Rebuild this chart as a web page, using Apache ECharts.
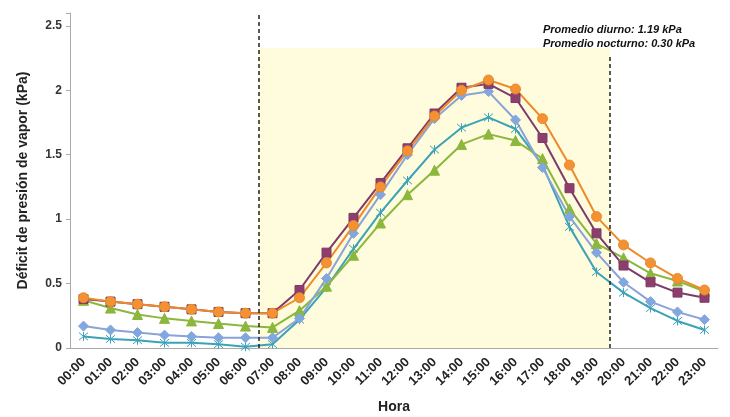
<!DOCTYPE html>
<html>
<head>
<meta charset="utf-8">
<script src="https://cdn.jsdelivr.net/npm/echarts@6/dist/echarts.min.js"></script>
<style>
  html, body { margin: 0; padding: 0; background: #fff; }
  #chart { width: 730px; height: 417px; }
</style>
</head>
<body>
<div id="chart"></div>
<script>
// horas del día
const hours = ['00:00', '01:00', '02:00', '03:00', '04:00', '05:00', '06:00', '07:00',
  '08:00', '09:00', '10:00', '11:00', '12:00', '13:00', '14:00', '15:00',
  '16:00', '17:00', '18:00', '19:00', '20:00', '21:00', '22:00', '23:00'];

// DPV (kPa) por serie
const serieCirculo = [0.39, 0.36, 0.34, 0.32, 0.30, 0.28, 0.27, 0.27, 0.39, 0.66, 0.95, 1.25,
  1.53, 1.80, 2.00, 2.08, 2.01, 1.78, 1.42, 1.02, 0.80, 0.66, 0.54, 0.45];
const serieCuadro = [0.38, 0.36, 0.34, 0.32, 0.30, 0.28, 0.27, 0.27, 0.45, 0.74, 1.01, 1.28,
  1.55, 1.82, 2.02, 2.05, 1.94, 1.63, 1.24, 0.89, 0.64, 0.51, 0.43, 0.39];
const serieTriangulo = [0.37, 0.31, 0.26, 0.23, 0.21, 0.19, 0.17, 0.16, 0.29, 0.48, 0.72, 0.97,
  1.19, 1.38, 1.58, 1.66, 1.61, 1.47, 1.08, 0.81, 0.70, 0.58, 0.52, 0.44];
const serieRombo = [0.17, 0.14, 0.12, 0.10, 0.09, 0.08, 0.08, 0.08, 0.23, 0.54, 0.89, 1.19,
  1.50, 1.78, 1.96, 1.99, 1.77, 1.40, 1.02, 0.74, 0.51, 0.36, 0.28, 0.22];
const serieAspa = [0.09, 0.07, 0.06, 0.04, 0.04, 0.03, 0.01, 0.03, 0.22, 0.47, 0.77, 1.05,
  1.30, 1.54, 1.71, 1.79, 1.70, 1.42, 0.94, 0.59, 0.43, 0.31, 0.21, 0.14];

// periodo diurno (en horas, sobre un eje 0-24) y alturas de las líneas
const periodoDia = [7, 20];
const altoFranja = 2.33;
const altoLineas = [2.6, 2.26];

const yTicks = [0, 0.5, 1, 1.5, 2, 2.5];

const chart = echarts.init(document.getElementById('chart'));

const aspa = 'path://M0,0L10,10M10,0L0,10M5,-1L5,11';

function linea(name, data, color, symbol, size, fill) {
  return {
    name: name,
    type: 'line',
    data: data,
    symbol: symbol,
    symbolSize: size,
    showSymbol: true,
    lineStyle: { color: color, width: 2 },
    itemStyle: { color: fill || color, borderColor: color, borderWidth: 1 },
    z: 3
  };
}

const option = {
  animation: false,
  backgroundColor: '#fff',
  textStyle: { fontFamily: 'Liberation Sans, Arial, sans-serif' },
  grid: { left: 70, right: 12, top: 13, bottom: 69, outerBoundsMode: 'none' },
  xAxis: [
    {
      type: 'category',
      data: hours,
      boundaryGap: true,
      name: 'Hora',
      nameLocation: 'middle',
      nameGap: 52,
      nameTextStyle: { fontSize: 14, fontWeight: 'bold', color: '#222' },
      axisLine: { lineStyle: { color: '#aaa' } },
      axisTick: { alignWithLabel: false, length: 4, lineStyle: { color: '#aaa' } },
      axisLabel: { rotate: 45, fontSize: 13, fontWeight: 'bold', color: '#222', interval: 0, margin: 12 }
    },
    {
      // eje auxiliar para la franja del día
      type: 'value', min: 0, max: 24, show: false
    }
  ],
  yAxis: {
    type: 'value',
    min: 0,
    max: 2.6,
    interval: 0.5,
    name: 'Déficit de presión de vapor (kPa)',
    nameLocation: 'middle',
    nameGap: 40,
    nameTextStyle: { fontSize: 14, fontWeight: 'bold', color: '#222' },
    axisLine: { show: true, lineStyle: { color: '#aaa' } },
    axisTick: { show: true, length: 4, lineStyle: { color: '#aaa' } },
    splitLine: { show: false },
    axisLabel: {
      fontSize: 12, fontWeight: 'bold', color: '#333', margin: 8,
      formatter: v => yTicks.some(t => Math.abs(t - v) < 1e-6) ? String(v) : ''
    }
  },
  series: [
    {
      name: 'dia',
      type: 'line',
      xAxisIndex: 1,
      data: [],
      z: 1,
      silent: true,
      markArea: {
        silent: true,
        itemStyle: { color: '#FEFCDC' },
        data: [[{ coord: [periodoDia[0], 0] }, { coord: [periodoDia[1], altoFranja] }]]
      },
      markLine: {
        silent: true,
        symbol: 'none',
        label: { show: false },
        lineStyle: { color: '#222', type: [4, 3], width: 1.5 },
        data: [
          [{ coord: [periodoDia[0], 0] }, { coord: [periodoDia[0], altoLineas[0]] }],
          [{ coord: [periodoDia[1], 0] }, { coord: [periodoDia[1], altoLineas[1]] }]
        ]
      }
    },
    linea('Aspa', serieAspa, '#3BA2B8', aspa, 9, 'rgba(0,0,0,0)'),
    linea('Triángulo', serieTriangulo, '#8BB73E', 'triangle', 10),
    linea('Rombo', serieRombo, '#8AA3D8', 'diamond', 10, '#7FA8E0'),
    linea('Cuadrado', serieCuadro, '#7E3A68', 'rect', 9, '#8E3E6C'),
    linea('Círculo', serieCirculo, '#EE8A2A', 'circle', 10, '#F29233')
  ],
  graphic: [
    {
      type: 'text',
      left: 543,
      top: 23,
      z: 100,
      style: {
        text: 'Promedio diurno: 1.19 kPa\nPromedio nocturno: 0.30 kPa',
        font: 'italic bold 11px Liberation Sans, Arial, sans-serif',
        fill: '#111',
        lineHeight: 14
      }
    }
  ]
};

chart.setOption(option);
</script>
</body>
</html>
